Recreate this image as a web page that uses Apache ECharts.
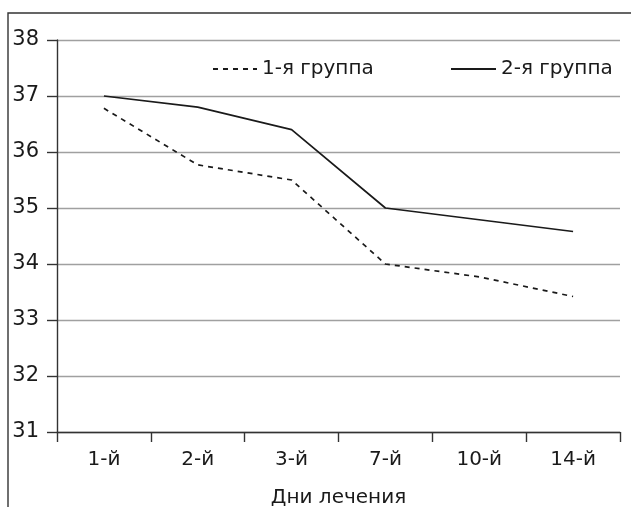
<!DOCTYPE html>
<html>
<head>
<meta charset="utf-8">
<script src="https://cdn.jsdelivr.net/npm/echarts@6/dist/echarts.min.js"></script>
<style>
html,body{margin:0;padding:0;background:#fff;}
#c{width:631px;height:507px;}
</style>
</head>
<body>
<div id="c"></div>
<script>
var categories = ['1-й', '2-й', '3-й', '7-й', '10-й', '14-й'];
var group1 = [36.78, 35.77, 35.5, 34.0, 33.77, 33.42];
var group2 = [37.0, 36.8, 36.4, 35.0, 34.79, 34.58];
var seriesNames = ['1-я группа', '2-я группа'];
var xAxisTitle = 'Дни лечения';

var font = '"DejaVu Sans", sans-serif';
var chart = echarts.init(document.getElementById('c'), null, {renderer: 'canvas'});
chart.setOption({
  animation: false,
  backgroundColor: '#fff',
  grid: {left: 57, right: 11, top: 40, bottom: 75, containLabel: false, outerBoundsMode: 'none'},
  legend: [
    {data: [seriesNames[0]], left: 212, top: 59, padding: 0, itemWidth: 44, itemHeight: 14,
     itemStyle: {opacity: 0},
     textStyle: {fontFamily: font, fontSize: 20, color: '#1a1a1a'}},
    {data: [seriesNames[1]], left: 450, top: 59, padding: 0, itemWidth: 45, itemHeight: 14,
     itemStyle: {opacity: 0},
     textStyle: {fontFamily: font, fontSize: 20, color: '#1a1a1a'}}
  ],
  xAxis: {
    type: 'category',
    data: categories,
    boundaryGap: true,
    name: xAxisTitle,
    nameLocation: 'middle',
    nameGap: 56,
    nameTextStyle: {fontFamily: font, fontSize: 20, color: '#1a1a1a'},
    axisLine: {lineStyle: {color: '#333', width: 1.4}},
    axisTick: {show: true, length: 10, lineStyle: {color: '#333', width: 1.4}},
    axisLabel: {fontFamily: font, fontSize: 20, color: '#1a1a1a', margin: 18},
    splitLine: {show: false}
  },
  yAxis: {
    type: 'value',
    min: 31, max: 38, interval: 1,
    axisLine: {show: true, lineStyle: {color: '#333', width: 1.4}},
    axisTick: {show: true, length: 10, lineStyle: {color: '#333', width: 1.4}},
    axisLabel: {fontFamily: font, fontSize: 21, color: '#1a1a1a', margin: 18},
    splitLine: {show: true, lineStyle: {color: '#a0a0a0', width: 1.4}}
  },
  series: [
    {name: seriesNames[0], type: 'line', data: group1, symbol: 'none',
     lineStyle: {color: '#1a1a1a', width: 1.7, type: [5, 5]}, itemStyle: {color: '#1a1a1a'}},
    {name: seriesNames[1], type: 'line', data: group2, symbol: 'none',
     lineStyle: {color: '#1a1a1a', width: 1.7, type: 'solid'}, itemStyle: {color: '#1a1a1a'}}
  ],
  graphic: [
    {type: 'polyline', silent: true, shape: {points: [[8, 507], [8, 13], [631, 13]]},
     style: {stroke: '#333', lineWidth: 1.4, fill: null}}
  ]
});
</script>
</body>
</html>
